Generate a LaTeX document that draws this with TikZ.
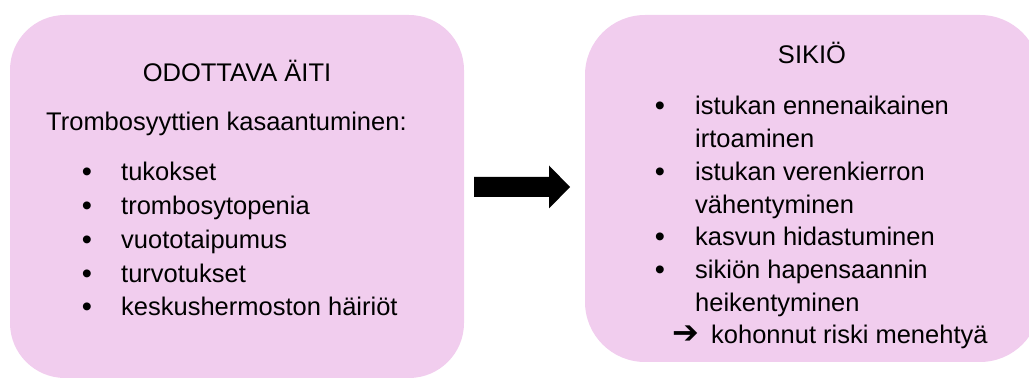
\documentclass[tikz,border=0pt]{standalone}
\usepackage{fontspec}
\usetikzlibrary{calc}
\setmainfont{Liberation Sans}
\newfontfamily\symfont{DejaVu Sans}
\definecolor{boxpink}{RGB}{241,205,238}
\begin{document}
\begin{tikzpicture}[x=1pt,y=-1pt,
  panel/.style={fill=boxpink, draw=none, inner sep=0pt},
  txt/.style={inner sep=0pt, anchor=base west, font=\fontsize{25.5}{30}\selectfont},
  bul/.style={inner sep=0pt, anchor=base, font=\fontsize{29}{30}\selectfont},
  ttl/.style={inner sep=0pt, anchor=base, font=\fontsize{25.5}{30}\selectfont}]
\useasboundingbox (0,0) rectangle (1029,379);
% panels
\node[panel, rounded corners=55pt, minimum width=454pt, minimum height=363pt] (mother) at (237,196.5) {};
\node[panel, rounded corners=60pt, minimum width=455pt, minimum height=347pt] (fetus) at (812.5,188.5) {};
% block arrow
\coordinate (atail) at (474,187);
\coordinate (atip) at (570,187);
\fill[black] ($(atail)+(0,-10)$) -- ($(atip)+(-21,-10)$) -- ($(atip)+(-21,-21.5)$) -- (atip)
  -- ($(atip)+(-21,21.5)$) -- ($(atip)+(-21,10)$) -- ($(atail)+(0,10)$) -- cycle;
% left texts
\node[ttl] (t1) at (237,81.5) {ODOTTAVA ÄITI};
\node[txt] (l0) at (46,131) {Trombosyyttien kasaantuminen:};
\foreach \y/\s [count=\i] in {181/tukokset,214.7/trombosytopenia,248.4/vuototaipumus,282.1/turvotukset,315.8/keskushermoston häiriöt}{
  \node[bul] (lb\i) at (87,\y+1) {•};
  \node[txt] (li\i) at (121,\y) {\s};
}
% right texts
\node[ttl] (t2) at (812,64) {SIKIÖ};
\foreach \y/\s [count=\i] in {115/istukan ennenaikainen,147.7/irtoaminen,180.4/istukan verenkierron,213.1/vähentyminen,245.8/kasvun hidastuminen,278.5/sikiön hapensaannin,311.2/heikentyminen}{
  \node[txt] (ri\i) at (695,\y) {\s};
}
\foreach \y [count=\i] in {115,180.4,245.8,278.5}{
  \node[bul] (rb\i) at (660,\y+1) {•};
}
\node[inner sep=0pt, anchor=center, font=\fontsize{32}{36}\symfont] (rarr) at (686,335) {➔};
\node[txt] (rlast) at (711,343.9) {kohonnut riski menehtyä};
\end{tikzpicture}
\end{document}
